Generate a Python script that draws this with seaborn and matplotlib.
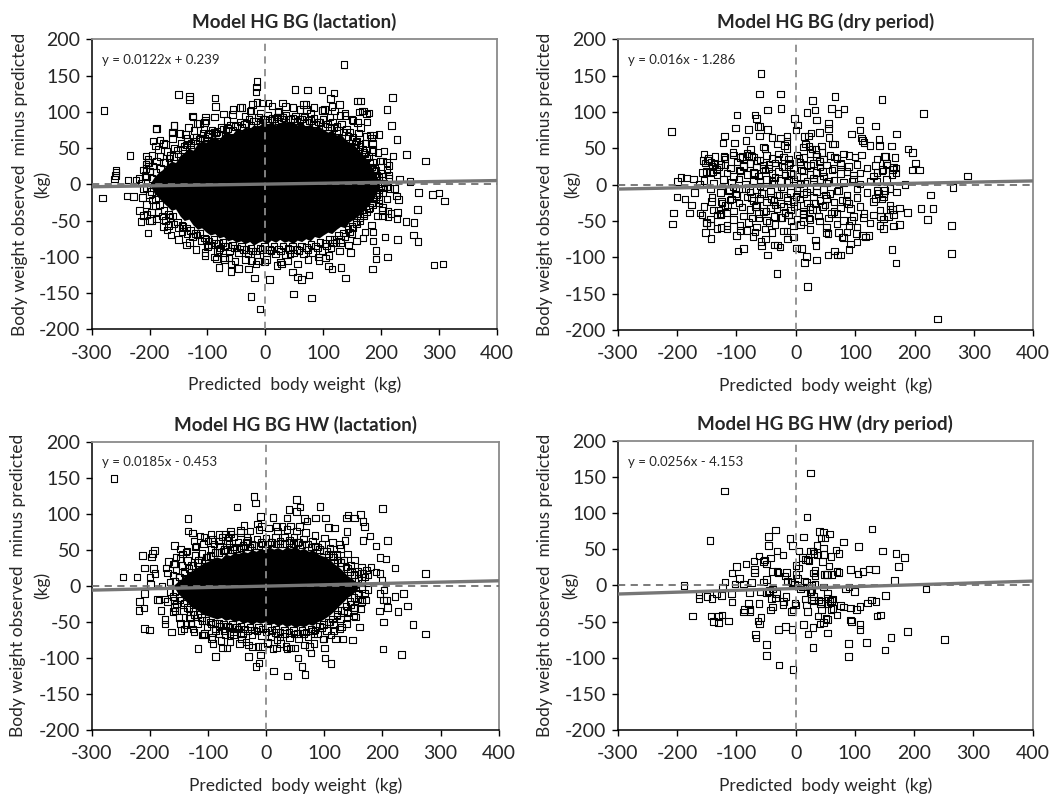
import numpy as np
import pandas as pd
import matplotlib
matplotlib.use("Agg")
import matplotlib.pyplot as plt
import seaborn as sns

# panel texts and fitted lines
titles = ["Model HG BG (lactation)", "Model HG BG (dry period)",
          "Model HG BG HW (lactation)", "Model HG BG HW (dry period)"]
equations = ["y = 0.0122x + 0.239", "y = 0.016x - 1.286",
             "y = 0.0185x - 0.453", "y = 0.0256x - 4.153"]
slopes = [0.0122, 0.016, 0.0185, 0.0256]
intercepts = [0.239, -1.286, -0.453, -4.153]
x_ticks = [-300, -200, -100, 0, 100, 200, 300, 400]
y_ticks = [-200, -150, -100, -50, 0, 50, 100, 150, 200]

# --- Model HG BG (lactation): outline of the solid dense core + edge / outlier points
lac_bg_core_x = [-200, -192, -185, -178, -170, -162, -155, -147, -140, -132, -125, -117, -110,
                 -102, -95, -87, -80, -72, -65, -57, -50, -42, -35, -27, -20, -12, -5, 3, 10,
                 18, 25, 33, 40, 48, 55, 63, 70, 78, 85, 93, 100, 108, 115, 123, 130, 138,
                 145, 153, 160, 168, 175, 183, 190, 197]
lac_bg_core_top = [0, 10, 16, 20, 27, 32, 30, 40, 44, 50, 47, 56, 60, 58, 64, 66, 62, 70, 72,
                   69, 76, 74, 79, 77, 82, 80, 85, 83, 86, 82, 85, 88, 84, 86, 82, 85, 80, 83,
                   78, 80, 76, 72, 75, 68, 70, 62, 58, 55, 48, 42, 35, 26, 15, 4]
lac_bg_core_bot = [0, -12, -18, -24, -30, -36, -34, -44, -50, -48, -56, -62, -60, -66, -70, -68,
                   -74, -72, -78, -76, -80, -78, -82, -79, -84, -80, -78, -82, -77, -80, -76,
                   -80, -78, -82, -77, -79, -75, -78, -72, -74, -70, -66, -68, -62, -58, -60,
                   -52, -48, -44, -38, -32, -24, -15, -5]
lac_bg_pts = [
    (-279, 102), (-281, -19), (136, 165), (-14, 142), (-15, 134), (-16, 127), (-14, 113),
    (-150, 124), (-131, 121), (-131, 117), (-87, 119), (-86, 107), (-125, 93), (-103, 93),
    (-105, 85), (-25, 102), (-44, 106), (5, 112), (51, 131), (73, 130), (98, 130), (119, 126),
    (113, 118), (115, 107), (128, 110), (159, 115), (165, 115), (220, 120), (210, 103),
    (167, 101), (175, 97), (218, 81), (99, 102), (70, 110), (71, 103), (22, 100), (21, 93),
    (35, 107), (228, 62), (244, 41), (277, 32), (221, 39), (210, 30), (214, 26), (213, 13),
    (232, 7), (250, 4), (265, -11), (289, -14), (300, -12), (310, -23), (263, -35), (257, -53),
    (243, -51), (228, -47), (229, -39), (227, -16), (230, -21), (256, -70), (264, -79),
    (229, -76), (207, -73), (211, -100), (191, -91), (191, -103), (185, -117), (186, -78),
    (186, -66), (169, -74), (292, -111), (307, -110), (139, -129), (131, -115), (115, -117),
    (109, -113), (93, -105), (80, -157), (49, -151), (47, -121), (56, -128), (63, -131),
    (76, -125), (28, -110), (26, -107), (7, -131), (-1, -107), (-9, -172), (-25, -155),
    (-19, -129), (-29, -117), (-46, -116), (-59, -120), (-59, -110), (-63, -102), (-70, -101),
    (-80, -115), (-83, -93), (-84, -103), (-104, -98), (-98, -84), (-131, -80), (-25, -105),
    (-12, -106), (-203, -67), (-215, -51), (-217, -36), (-210, -43), (-200, -50), (-197, -50),
    (-204, -42), (-239, -16), (-228, -17), (-237, 6), (-223, 6), (-234, 40), (-206, 39),
    (-206, 27), (-206, 22), (-202, 30), (-203, 34), (-194, 60), (-190, 53), (-188, 77),
    (-258, 19), (-258, 16), (-259, 12), (-261, 7), (-158, 81), (-161, 71), (-182, 61),
    (-176, 56), (198, 32), (181, 68), (184, 64), (161, 71), (155, 55), (197, 69), (172, 56),
    (186, 48), (185, 45), (189, 22), (201, 15), (203, 11), (211, -4), (216, -6), (223, -6),
    (197, -21), (196, -26), (203, -5), (203, -36), (203, -44), (212, -37), (217, -40), (212, -45),
    (-126, 94), (-114, 84), (-158, 81), (-189, 76), (-160, 72), (-138, 69), (-135, 64),
    (-123, 74), (-106, 76), (-98, 69), (-83, 73), (-66, 88), (-57, 96), (-35, 94), (-26, 101),
    (-8, 98), (23, 101), (60, 103), (78, 98), (98, 102), (112, 93), (129, 95), (138, 98),
    (163, 100), (171, 101), (179, 98), (150, 89), (159, 85), (176, 86), (187, 68), (205, 46),
    (-170, -63), (-167, -57), (-144, -65), (-100, -86), (-80, -90), (43, -96), (116, -81),
    (130, -80), (150, -68), (147, -94), (104, -102),
    (-215, 2), (-210, -6), (-218, 8), (205, 2), (210, -4), (214, 8), (-208, 12), (203, -12),
    # upper edge of the dense cloud
    (-205, 10), (-200, 18), (-195, 25), (-188, 32), (-182, 38), (-176, 30), (-170, 45),
    (-165, 40), (-158, 50), (-152, 47), (-146, 56), (-140, 52), (-134, 60), (-128, 57),
    (-120, 65), (-114, 62), (-108, 70), (-100, 66), (-92, 74), (-85, 71), (-76, 78), (-68, 75),
    (-60, 82), (-52, 80), (-44, 86), (-36, 83), (-28, 90), (-20, 87), (-12, 92), (-4, 89),
    (4, 95), (12, 91), (20, 93), (28, 89), (36, 95), (44, 90), (52, 94), (60, 89), (68, 93),
    (76, 88), (84, 91), (92, 86), (100, 89), (108, 83), (116, 86), (124, 80), (132, 83),
    (140, 76), (146, 72), (152, 65), (158, 60), (164, 55), (168, 48), (172, 42), (176, 36),
    (180, 30), (184, 24), (188, 18), (192, 12), (196, 6), (200, -2),
    (-196, 8), (-189, 16), (-181, 22), (-173, 30), (-166, 36), (-159, 38), (-151, 42),
    (-143, 48), (-136, 54), (-129, 54), (-121, 60), (-113, 64), (-105, 64), (-97, 70),
    (-89, 72), (-81, 68), (-73, 76), (-65, 77), (-57, 74), (-49, 81), (-41, 79), (-33, 84),
    (-25, 82), (-17, 87), (-9, 85), (-1, 90), (7, 88), (15, 90), (23, 87), (31, 92), (39, 89),
    (47, 91), (55, 87), (63, 90), (71, 85), (79, 88), (87, 83), (95, 85), (103, 80), (111, 79),
    (119, 78), (127, 74), (135, 72), (143, 66), (150, 62), (157, 58), (164, 52), (171, 44),
    (178, 38), (185, 30), (191, 20), (197, 10),
    (-210, 20), (-203, 30), (-196, 40), (-185, 48), (-172, 55), (-160, 63), (-147, 70),
    (-133, 78), (-118, 84), (-103, 88), (-88, 93), (-72, 97), (-56, 103), (-40, 106),
    (-22, 110), (-5, 112), (12, 108), (30, 112), (48, 106), (66, 110), (84, 106), (102, 103),
    (120, 101), (138, 95), (152, 88), (165, 78), (175, 66), (185, 56), (195, 44), (203, 32),
    (210, 20),
    # lower edge of the dense cloud
    (-205, -5), (-200, -14), (-196, -22), (-190, -30), (-185, -38), (-178, -44), (-172, -50),
    (-165, -46), (-158, -55), (-150, -60), (-142, -58), (-135, -68), (-126, -72), (-118, -70),
    (-110, -78), (-102, -76), (-94, -84), (-86, -81), (-78, -88), (-70, -85), (-62, -92),
    (-54, -88), (-46, -94), (-38, -90), (-30, -96), (-22, -92), (-14, -97), (-6, -90), (2, -95),
    (10, -91), (18, -96), (26, -92), (34, -97), (42, -90), (50, -95), (58, -91), (66, -96),
    (74, -90), (82, -94), (90, -88), (98, -91), (106, -85), (114, -88), (122, -80), (130, -76),
    (138, -72), (146, -66), (152, -60), (158, -55), (164, -50), (170, -44), (175, -38),
    (180, -32), (184, -26), (188, -20), (193, -14), (197, -8),
    (-197, -10), (-190, -20), (-183, -28), (-175, -36), (-167, -42), (-160, -44), (-152, -52),
    (-144, -56), (-136, -60), (-129, -64), (-121, -68), (-113, -68), (-105, -74), (-97, -78),
    (-89, -76), (-81, -82), (-73, -80), (-65, -86), (-57, -84), (-49, -88), (-41, -86),
    (-33, -90), (-25, -88), (-17, -92), (-9, -88), (-1, -86), (7, -90), (15, -86), (23, -89),
    (31, -85), (39, -88), (47, -86), (55, -90), (63, -85), (71, -87), (79, -83), (87, -85),
    (95, -80), (103, -82), (111, -76), (119, -76), (127, -70), (135, -67), (143, -62),
    (150, -58), (157, -52), (164, -46), (171, -40), (178, -34), (185, -28), (191, -20),
    (197, -12),
    (-212, -18), (-205, -28), (-197, -38), (-188, -48), (-176, -58), (-163, -70), (-150, -76),
    (-136, -84), (-120, -90), (-104, -94), (-88, -100), (-70, -104), (-52, -106), (-34, -104),
    (-16, -110), (2, -104), (20, -112), (38, -106), (56, -110), (74, -104), (92, -100),
    (110, -98), (128, -92), (144, -84), (158, -78), (172, -66), (184, -56), (194, -44),
    (203, -32), (210, -20),
]

# --- Model HG BG (dry period)
dry_bg_pts = [
    (-209, 73), (-59, 153), (-61, 125), (-26, 125), (-25, 105), (-48, 103), (-99, 96), (-69, 96),
    (-66, 91), (-64, 80), (-60, 80), (-48, 76), (-80, 76), (-102, 78), (-61, 67), (-84, 61),
    (-120, 67), (-103, 57), (-123, 57), (-76, 49), (-75, 39), (-90, 39), (-106, 44), (-121, 39),
    (-88, 25), (-54, 52), (-52, 50), (-40, 65), (-31, 56), (-26, 64), (-15, 66), (-15, 60),
    (-19, 54), (-15, 50), (-2, 91), (3, 82), (0, 75), (19, 99), (28, 116), (32, 103), (35, 89),
    (40, 72), (26, 71), (15, 66), (21, 67), (16, 56), (13, 52), (22, 53), (27, 49), (34, 48),
    (34, 42), (43, 53), (44, 44), (55, 84), (55, 77), (56, 65), (62, 56), (65, 56), (60, 105),
    (66, 121), (71, 98), (81, 104), (94, 70), (107, 89), (108, 75), (111, 64), (112, 61),
    (115, 58), (125, 54), (134, 81), (140, 62), (141, 54), (145, 117), (149, 39), (161, 53),
    (170, 70), (215, 98), (189, 49), (197, 44), (202, 30), (196, 20), (208, 20), (169, 23),
    (169, 16), (163, 21), (154, 27), (146, 21), (137, 17), (289, 12), (184, 0), (265, -4),
    (227, -14), (211, -33), (231, -33), (222, -48), (262, -56), (262, -95), (239, -185),
    (162, -89), (169, -108), (175, -55), (165, -57), (156, -44), (143, -44), (142, -56),
    (159, -34), (163, -34), (175, -32), (188, -38), (149, -8), (148, -17), (134, -19), (139, -12),
    (123, -70), (112, -70), (117, -72), (103, -79), (102, -67), (94, -49), (90, -56), (92, -82),
    (90, -89), (78, -72), (72, -66), (80, -73), (75, -97), (70, -97), (65, -91), (54, -97),
    (51, -66), (54, -67), (35, -104), (33, -76), (34, -84), (18, -99), (15, -107), (20, -140),
    (10, -88), (1, -87), (-4, -72), (-15, -64), (-14, -75), (-12, -42), (-32, -122), (-31, -83),
    (-27, -86), (-36, -83), (-51, -75), (-48, -97), (-40, -66), (-58, -84), (-59, -78),
    (-69, -65), (-72, -71), (-88, -88), (-97, -91), (-100, -70), (-94, -56), (-82, -63),
    (-116, -61), (-126, -59), (-152, -66), (-143, -74), (-144, -56), (-150, -52), (-161, -39),
    (-179, -39), (-206, -39), (-208, -54), (-200, -17), (-187, -20), (-176, -28), (-171, -11),
    (-199, 4), (-193, 10), (-184, 9), (-172, 8), (-162, 0), (-156, 33), (-149, 33), (-143, 31),
    (-136, 28), (-144, 17), (-157, 17), (-140, 18), (-134, 21), (-129, 24), (-120, 38),
    (-119, 27), (-142, -23), (-124, -25), (-130, -35), (-133, -42), (-126, -40), (-117, -39),
    (-111, -21), (-112, -7), (-106, -3),
    # central cluster, scanned band by band
    (-155, 42), (-147, 36), (-136, 39), (-119, 35), (-105, 41), (-94, 37), (-82, 43), (-71, 38),
    (-60, 34), (-49, 40), (-40, 36), (-29, 42), (-21, 38), (-12, 35), (2, 41), (13, 37), (24, 43),
    (35, 39), (47, 35), (58, 40), (69, 36), (80, 42), (100, 38), (111, 41), (137, 35), (151, 39),
    (167, 37),
    (-153, 30), (-141, 25), (-127, 28), (-110, 23), (-99, 31), (-88, 26), (-77, 29), (-66, 24),
    (-54, 27), (-46, 22), (-35, 30), (-23, 25), (-12, 28), (-4, 23), (7, 31), (19, 26), (30, 29),
    (41, 24), (52, 27), (64, 22), (75, 30), (89, 25), (103, 28), (120, 23), (134, 26), (153, 29),
    (165, 24),
    (-150, 18), (-133, 13), (-116, 16), (-105, 11), (-94, 19), (-82, 14), (-71, 17), (-63, 12),
    (-52, 20), (-40, 15), (-29, 18), (-18, 13), (-9, 16), (2, 11), (13, 19), (24, 14), (35, 17),
    (47, 12), (61, 20), (75, 15), (86, 18), (97, 13), (108, 16), (131, 12), (145, 19), (162, 14),
    (-155, 6), (-139, 2), (-122, 7), (-108, 3), (-96, 8), (-85, 1), (-71, 5), (-60, 4), (-49, 7),
    (-37, 2), (-26, 6), (-15, 3), (-4, 8), (7, 1), (19, 5), (30, 4), (41, 7), (52, 2), (64, 6),
    (80, 3), (97, 8), (108, 1), (125, 5), (137, 4), (153, 7),
    (-144, -6), (-127, -11), (-113, -8), (-102, -13), (-91, -5), (-77, -10), (-66, -7),
    (-54, -12), (-43, -9), (-32, -14), (-21, -6), (-9, -11), (2, -8), (13, -13), (24, -5),
    (35, -10), (47, -7), (58, -12), (69, -9), (86, -14), (103, -6), (120, -11), (137, -8),
    (148, -13), (159, -5), (170, -10),
    (-141, -18), (-125, -23), (-108, -20), (-96, -25), (-82, -17), (-71, -22), (-60, -19),
    (-49, -24), (-37, -21), (-26, -26), (-15, -18), (-4, -23), (7, -20), (19, -25), (30, -17),
    (41, -22), (52, -19), (64, -24), (78, -21), (89, -26), (103, -18), (131, -23), (145, -20),
    (-155, -30), (-139, -35), (-119, -29), (-105, -36), (-91, -31), (-77, -34), (-66, -28),
    (-54, -37), (-43, -32), (-32, -33), (-21, -30), (-9, -35), (2, -29), (13, -36), (24, -31),
    (35, -34), (49, -28), (64, -37), (75, -32), (92, -33), (108, -30), (142, -35), (159, -29),
    (-158, -42), (-144, -47), (-127, -41), (-105, -48), (-88, -43), (-74, -46), (-63, -40),
    (-49, -49), (-37, -44), (-23, -45), (-12, -42), (2, -47), (13, -41), (24, -48), (38, -43),
    (55, -46), (69, -40), (80, -49), (97, -44), (114, -45), (131, -42), (148, -47), (165, -41),
    (-150, -53), (-133, -60), (-116, -56), (-94, -63), (-80, -52), (-66, -58), (-52, -61),
    (-35, -55), (-21, -64), (-4, -57), (13, -51), (24, -62), (52, -59), (69, -54), (86, -65),
    (103, -58), (125, -53), (148, -60),
    (-65, 33), (-45, 28), (-30, 35), (-10, 30), (5, 36), (25, 27), (40, 32), (-70, 15), (-55, 22),
    (-35, 10), (-20, 24), (-5, 14), (10, 20), (30, 9), (45, 18), (-60, -2), (-40, 4), (-25, -3),
    (-12, 6), (2, -4), (15, 2), (35, -2), (55, 5), (-75, -18), (-58, -12), (-42, -20), (-28, -14),
    (-14, -22), (0, -16), (18, -10), (32, -26), (50, -14), (-68, -30), (-50, -36), (-35, -28),
    (-18, -38), (-3, -30), (12, -40), (28, -34), (45, -30), (-62, -46), (-45, -52), (-25, -45),
    (-8, -50), (8, -55), (22, -46), (40, -50), (60, -40), (-85, -5), (-95, 20), (-80, 40),
    (75, 28), (85, -22), (95, 5), (72, -8), (65, 38), (-100, -15), (-115, -28), (90, 40),
    (115, -40),
]

# --- Model HG BG HW (lactation)
lac_hw_core_x = [-160, -152, -145, -137, -130, -122, -115, -107, -100, -92, -85, -77, -70, -62,
                 -55, -47, -40, -32, -25, -17, -10, -2, 5, 13, 20, 28, 35, 43, 50, 58, 65, 73,
                 80, 88, 95, 103, 110, 118, 125, 133, 140, 148, 155, 162]
lac_hw_core_top = [0, 6, 10, 16, 20, 24, 28, 32, 34, 38, 40, 38, 44, 42, 46, 45, 48, 46, 50, 48,
                   52, 50, 54, 51, 53, 50, 54, 52, 55, 50, 52, 48, 50, 45, 42, 40, 36, 30, 26,
                   20, 14, 10, 5, 0]
lac_hw_core_bot = [0, -10, -16, -22, -28, -32, -36, -40, -42, -44, -46, -44, -48, -46, -50, -48,
                   -52, -50, -54, -50, -52, -50, -54, -52, -56, -53, -57, -54, -58, -55, -57,
                   -53, -55, -50, -48, -44, -40, -34, -28, -22, -16, -12, -6, 0]
lac_hw_pts = [
    (-262, 149), (-246, 12), (-222, 12), (-213, 42), (-197, 40), (-195, 45), (-192, 49),
    (-209, 25), (-194, 24), (-191, 17), (-200, 12), (-218, -22), (-219, -34), (-210, -31),
    (-209, -59), (-201, -61), (-209, -11), (-199, 2), (-179, 0), (-187, -19), (-184, -20),
    (-175, -18), (-181, -34), (-174, -47), (-174, -53), (-163, -64), (-158, -20), (-158, -30),
    (-157, -35), (-172, 25), (-168, 34), (-158, 56), (-155, 40), (-159, 30), (-147, 51),
    (-144, 44), (-138, 47), (-134, 93), (-134, 76), (-127, 73), (-114, 69), (-107, 68),
    (-124, 62), (-121, 55), (-95, 71), (-81, 71), (-70, 72), (-64, 68), (-82, 62), (-90, 58),
    (-100, 62), (-147, -52), (-146, -62), (-141, -60), (-132, -45), (-129, -52), (-126, -60),
    (-117, -87), (-108, -68), (-106, -66), (-93, -71), (-91, -80), (-87, -98), (-75, -86),
    (-67, -86), (-87, -62), (-81, -66), (-71, -68), (-62, -66), (-56, -68), (-51, -57),
    (-43, -66), (-42, -74), (-35, -78), (-30, -98), (-23, -85), (-17, -112), (-12, -107),
    (-10, -96), (-6, -84), (2, -79), (12, -87), (13, -118), (19, -75), (25, -80), (36, -88),
    (37, -125), (42, -86), (55, -100), (62, -112), (67, -123), (75, -84), (77, -93), (82, -66),
    (99, -74), (100, -86), (101, -100), (112, -108), (119, -74), (132, -74), (149, -75),
    (161, -57), (130, -57), (117, -62), (139, -45), (154, -43), (150, -31), (165, -20),
    (158, -12), (167, 17), (173, 22), (180, 26), (189, 19), (196, 17), (199, 8), (203, -6),
    (196, -11), (202, -20), (207, -20), (202, -50), (201, -88), (195, -35), (209, -30),
    (222, -15), (227, -36), (236, -11), (243, -28), (253, -54), (233, -95), (274, -67),
    (274, 17), (222, 25), (206, 37), (209, 63), (196, 39), (189, 55), (179, 69), (167, 63),
    (169, 82), (167, 89), (152, 94), (162, 99), (141, 98), (138, 94), (139, 75), (136, 63),
    (126, 57), (118, 80), (107, 81), (102, 94), (93, 110), (85, 94), (66, 93), (70, 90),
    (57, 82), (39, 106), (42, 83), (36, 94), (27, 82), (12, 95), (18, 82), (200, 107),
    (-50, 109), (-21, 124), (-18, 115), (52, 120), (52, 103), (58, 109), (-10, 96), (-15, 86),
    (-8, 82), (-38, 84), (-44, 77), (-33, 68), (-34, 61), (-61, 75), (-55, 68), (-67, 63),
    # upper edge of the dense cloud
    (-165, 5), (-160, 15), (-155, 22), (-150, 12), (-145, 28), (-140, 20), (-135, 35),
    (-128, 28), (-122, 42), (-116, 36), (-110, 45), (-102, 40), (-95, 50), (-88, 46), (-80, 55),
    (-72, 50), (-64, 58), (-56, 54), (-48, 60), (-40, 56), (-32, 63), (-24, 58), (-16, 65),
    (-8, 60), (0, 66), (8, 61), (16, 67), (24, 62), (32, 68), (40, 63), (48, 67), (56, 61),
    (64, 65), (72, 58), (80, 62), (88, 54), (96, 57), (104, 48), (110, 52), (116, 40), (122, 44),
    (128, 32), (134, 36), (140, 24), (146, 28), (152, 16), (158, 20), (164, 8), (170, 12),
    (-157, 6), (-149, 12), (-141, 18), (-133, 24), (-126, 28), (-118, 32), (-111, 36),
    (-103, 40), (-96, 42), (-88, 46), (-81, 46), (-73, 48), (-66, 50), (-58, 50), (-51, 52),
    (-43, 53), (-36, 54), (-28, 54), (-21, 56), (-13, 56), (-6, 58), (2, 58), (9, 60), (17, 58),
    (24, 59), (32, 58), (39, 60), (47, 59), (54, 60), (62, 57), (69, 58), (77, 54), (84, 55),
    (92, 50), (99, 48), (107, 44), (114, 42), (122, 36), (129, 32), (137, 26), (144, 20),
    (151, 15), (158, 10), (165, 4),
    (-170, 18), (-158, 30), (-148, 38), (-136, 48), (-122, 54), (-108, 58), (-92, 64),
    (-76, 68), (-60, 72), (-44, 74), (-28, 76), (-12, 78), (4, 80), (20, 76), (36, 78), (52, 76),
    (68, 74), (84, 70), (100, 66), (114, 60), (128, 52), (140, 44), (152, 36), (164, 26),
    (175, 16),
    # lower edge of the dense cloud
    (-165, -8), (-160, -15), (-154, -25), (-148, -20), (-142, -35), (-136, -30), (-130, -45),
    (-124, -40), (-118, -52), (-110, -48), (-102, -57), (-95, -53), (-88, -60), (-80, -56),
    (-72, -62), (-64, -58), (-56, -64), (-48, -60), (-40, -66), (-32, -62), (-24, -68),
    (-16, -63), (-8, -69), (0, -64), (8, -70), (16, -65), (24, -71), (32, -66), (40, -72),
    (48, -67), (56, -73), (64, -66), (72, -71), (80, -63), (88, -67), (96, -58), (104, -62),
    (110, -50), (116, -54), (122, -42), (128, -46), (134, -34), (140, -38), (146, -26),
    (152, -30), (158, -18), (164, -22), (170, -10), (175, -5),
    (-157, -8), (-149, -16), (-141, -24), (-133, -32), (-126, -36), (-118, -40), (-111, -44),
    (-103, -48), (-96, -50), (-88, -52), (-81, -52), (-73, -54), (-66, -56), (-58, -54),
    (-51, -58), (-43, -56), (-36, -60), (-28, -57), (-21, -61), (-13, -58), (-6, -60), (2, -58),
    (9, -62), (17, -60), (24, -64), (32, -61), (39, -65), (47, -62), (54, -66), (62, -62),
    (69, -64), (77, -60), (84, -61), (92, -56), (99, -54), (107, -50), (114, -46), (122, -40),
    (129, -34), (137, -28), (144, -22), (151, -16), (158, -10), (165, -4),
    (-170, -22), (-160, -36), (-150, -44), (-138, -54), (-124, -64), (-110, -68), (-94, -74),
    (-78, -76), (-62, -78), (-46, -80), (-30, -82), (-14, -84), (2, -80), (18, -86), (34, -84),
    (50, -86), (66, -82), (82, -80), (98, -74), (112, -68), (126, -60), (138, -52), (150, -42),
    (162, -32), (172, -20),
]

# --- Model HG BG HW (dry period)
dry_hw_pts = [
    (-120, 131), (25, 156), (-144, 62), (19, 95), (129, 78), (-34, 77), (40, 75), (47, 74),
    (57, 71), (-9, 65), (13, 67), (-46, 68), (43, 66), (50, 66), (81, 60), (106, 54), (-46, 55),
    (-5, 55), (6, 48), (25, 48), (29, 48), (47, 52), (48, 43), (68, 49), (73, 44), (147, 48),
    (169, 44), (184, 39), (-31, 48), (-21, 42), (-54, 33), (-62, 41), (-70, 34), (-69, 22),
    (-69, 18), (-84, 30), (-100, 26), (-107, 17), (-95, 10), (-49, 30), (-52, 35), (-42, 38),
    (-39, 19), (-31, 19), (-15, 18), (1, 28), (5, 24), (12, 39), (17, 36), (20, 35), (23, 34),
    (31, 44), (36, 42), (36, 55), (45, 33), (56, 27), (49, 15), (52, 15), (54, 15), (60, 40),
    (61, 15), (70, 19), (73, 18), (93, 22), (105, 16), (114, 19), (124, 23), (135, 22),
    (174, 26), (167, 7), (220, -5), (251, -75), (189, -64), (161, -72), (151, -89), (120, -79),
    (137, -42), (143, -41), (152, -14), (128, -20), (136, -22), (121, -24), (109, -29),
    (103, -33), (109, -54), (109, -61), (89, -80), (89, -98), (93, -48), (94, -50), (93, -31),
    (81, -30), (84, -5), (99, -8), (90, -2), (76, -28), (70, -41), (62, -19), (63, -32),
    (60, -33), (54, -66), (54, -47), (51, -46), (47, -51), (41, -53), (38, -42), (44, -22),
    (42, -25), (44, -34), (55, -25), (58, -22), (61, -21), (54, -18), (30, -15), (27, -20),
    (30, -21), (29, -58), (29, -86), (21, -67), (20, -36), (18, -27), (16, -19), (13, -54),
    (0, -27), (-1, -24), (-4, -34), (-7, -36), (-6, -61), (-4, -116), (-17, -57), (-29, -61),
    (-28, -110), (-49, -82), (-49, -97), (-58, -44), (-61, -53), (-63, -49), (-68, -68),
    (-67, -73), (-62, -25), (-77, -33), (-77, -36), (-79, -25), (-86, -33), (-88, -37),
    (-113, -49), (-124, -41), (-130, -43), (-130, -51), (-138, -50), (-143, -42), (-174, -42),
    (-141, -18), (-149, -15), (-163, -13), (-163, -18), (-125, -14), (-123, -3), (-133, -11),
    (-188, 0), (-119, 5), (-102, 2), (-108, -12), (-107, -23), (-78, -10), (-74, 4), (-88, 2),
    (-60, -8), (-49, -10), (-46, -9), (-54, 5), (-49, 8), (-44, -7), (-41, -18), (-39, -30),
    (-42, -34), (-39, -5), (-32, -11), (-34, -17), (-30, 18), (-18, 13), (-14, 6), (-16, -15),
    (-20, -22), (-21, -26), (-8, 5), (-6, 4), (-2, 2), (3, 10), (1, 15), (8, -5), (12, -2),
    (15, 6), (18, 5), (26, -9), (24, -8), (28, -6), (27, 0), (33, 13), (30, 17), (33, 21),
    (47, -2), (33, 1), (54, -11), (39, -20),
]

panel_points = [lac_bg_pts, dry_bg_pts, lac_hw_pts, dry_hw_pts]
panel_cores = [(lac_bg_core_x, lac_bg_core_bot, lac_bg_core_top), None,
               (lac_hw_core_x, lac_hw_core_bot, lac_hw_core_top), None]

sns.set_style("white")
plt.rcParams["font.family"] = ["Lato", "DejaVu Sans"]
plt.rcParams["axes.unicode_minus"] = False

fig = plt.figure(figsize=(10.55, 7.95), dpi=100)
rects = [[0.0869, 0.5858, 0.3839, 0.3648],
         [0.5855, 0.5849, 0.3939, 0.3657],
         [0.0869, 0.0818, 0.3858, 0.3627],
         [0.5855, 0.0818, 0.3934, 0.3635]]
ylab_x = [(-0.177, -0.123), (-0.175, -0.111), (-0.180, -0.121), (-0.175, -0.115)]

for i in range(4):
    ax = fig.add_axes(rects[i])
    df = pd.DataFrame(panel_points[i], columns=["pred", "resid"])
    if panel_cores[i] is not None:
        cx, cb, ct = panel_cores[i]
        ax.fill_between(cx, cb, ct, color="black", lw=0, zorder=1)
    sns.scatterplot(data=df, x="pred", y="resid", ax=ax, marker="s", s=22,
                    facecolor="none", edgecolor="black", linewidth=0.8, zorder=2)
    ax.axvline(0, color="#8c8c8c", lw=1.3, ls=(0, (4, 3)), zorder=3)
    ax.axhline(0, color="#6f6f6f", lw=1.3, ls=(0, (4, 3)), zorder=3)
    ax.axline((0, intercepts[i]), slope=slopes[i], color="#767676", lw=2.4, zorder=4)

    ax.set_xlim(-300, 400)
    ax.set_ylim(-200, 200)
    ax.set_xticks(x_ticks)
    ax.set_yticks(y_ticks)
    ax.tick_params(axis="both", labelsize=14, length=4, width=1,
                   color="black", direction="out")
    ax.tick_params(axis="x", pad=7)
    ax.tick_params(axis="y", pad=4)
    ax.tick_params(axis="both", bottom=True, left=True)
    for side in ["left", "bottom"]:
        ax.spines[side].set_color("black")
        ax.spines[side].set_linewidth(1.1)
    for side in ["top", "right"]:
        ax.spines[side].set_color("#8a8a8a")
        ax.spines[side].set_linewidth(1.3)

    ax.set_title(titles[i], fontsize=13.5, fontweight="bold", pad=8)
    ax.set_xlabel("Predicted  body weight  (kg)", fontsize=12.5, labelpad=11)
    ax.set_ylabel("")
    ax.text(ylab_x[i][0], 0.5, "Body weight observed  minus predicted", rotation=90,
            transform=ax.transAxes, fontsize=12.5, ha="center", va="center")
    ax.text(ylab_x[i][1], 0.5, "(kg)", rotation=90, transform=ax.transAxes,
            fontsize=12.5, ha="center", va="center")
    ax.text(0.025, 0.929, equations[i], transform=ax.transAxes, fontsize=9.5,
            va="center", ha="left")

fig.savefig("out.png", dpi=100)
